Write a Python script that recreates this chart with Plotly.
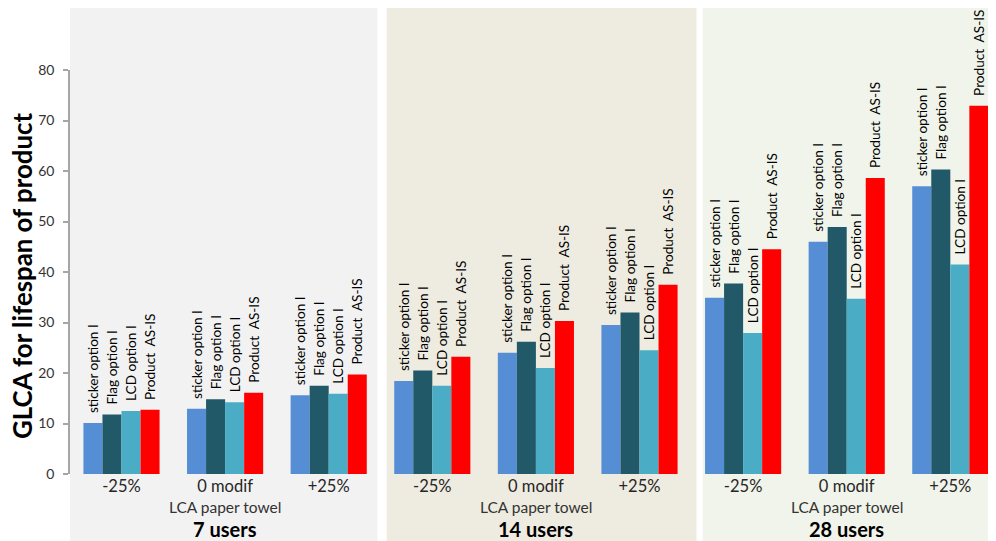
import plotly.graph_objects as go

# ---- data ----
groups = ["7 users", "14 users", "28 users"]
scenarios = ["-25%", "0 modif", "+25%"]
series_names = ["sticker option I", "Flag option I", "LCD option I", "Product  AS-IS"]
series_colors = ["#558ED5", "#215968", "#4BACC6", "#FF0000"]

sticker = [10.1, 12.9, 15.6, 18.4, 24.0, 29.5, 34.9, 46.0, 57.0]
flag    = [11.8, 14.8, 17.5, 20.5, 26.2, 32.0, 37.7, 48.9, 60.3]
lcd     = [12.5, 14.2, 15.9, 17.5, 21.0, 24.5, 27.9, 34.7, 41.5]
product = [12.7, 16.1, 19.7, 23.2, 30.3, 37.5, 44.5, 58.6, 72.9]
series_values = [sticker, flag, lcd, product]

y_ticks = [0, 10, 20, 30, 40, 50, 60, 70, 80]
y_title = "GLCA for lifespan of product"
x_title = "LCA paper towel"
panel_colors = ["#F2F2F2", "#EEEBE0", "#F1F4EA"]

FONT = "Lato, 'Open Sans', sans-serif"

positions = list(range(len(groups) * len(scenarios)))
tick_text = scenarios * len(groups)

fig = go.Figure()
for name, color, vals in zip(series_names, series_colors, series_values):
    fig.add_trace(go.Bar(
        x=positions, y=vals, name=name,
        marker=dict(color=color, line=dict(width=0)),
        text=["\u00a0\u00a0" + name] * len(vals),
        textposition="outside", textangle=-90,
        constraintext="none",
        textfont=dict(family=FONT, size=13.6, color="#000000"),
        cliponaxis=False,
        hoverinfo="x+y+name",
    ))

# panel backgrounds
edges = [(-0.6, 2.47), (2.56, 5.55), (5.61, 8.7)]
for (x0, x1), col in zip(edges, panel_colors):
    fig.add_shape(type="rect", xref="x", yref="paper", x0=x0, x1=x1,
                  y0=-0.2, y1=1.16, fillcolor=col, line=dict(width=0),
                  layer="below")

# group annotations
for gi, g in enumerate(groups):
    center = gi * len(scenarios) + 1
    fig.add_annotation(x=center, xref="x", y=-0.081, yref="paper",
                       text=x_title, showarrow=False,
                       font=dict(family=FONT, size=15.5, color="#333333"),
                       yanchor="middle")
    fig.add_annotation(x=center, xref="x", y=-0.136, yref="paper",
                       text="<b>" + g + "</b>", showarrow=False,
                       font=dict(family=FONT, size=20, color="#000000"),
                       yanchor="middle")

# y axis title
fig.add_annotation(x=-0.052, xref="paper", y=0.49, yref="paper",
                   text="<b>" + y_title + "</b>", textangle=-90,
                   showarrow=False, xanchor="center", yanchor="middle",
                   font=dict(family=FONT, size=25.8, color="#000000"))

fig.update_layout(
    width=988, height=533,
    margin=dict(l=62, r=0, t=62, b=67),
    paper_bgcolor="white", plot_bgcolor="rgba(0,0,0,0)",
    barmode="group", bargap=0.265, bargroupgap=0,
    showlegend=False,
    font=dict(family=FONT),
    xaxis=dict(tickmode="array", tickvals=positions, ticktext=tick_text,
               range=[-0.497, 8.441], showgrid=False, zeroline=False,
               showline=False, ticks="", automargin=False,
               tickfont=dict(family=FONT, size=16.5, color="#262626")),
    yaxis=dict(range=[0, 80], tickvals=y_ticks, showgrid=False,
               zeroline=False, showline=True, linecolor="#A6A6A6",
               linewidth=1.5, ticks="outside", ticklen=5, tickcolor="#A6A6A6",
               tickwidth=1.5, ticklabelstandoff=6,
               automargin=False,
               tickfont=dict(family=FONT, size=14, color="#333333")),
)

fig.write_html("out.html")
